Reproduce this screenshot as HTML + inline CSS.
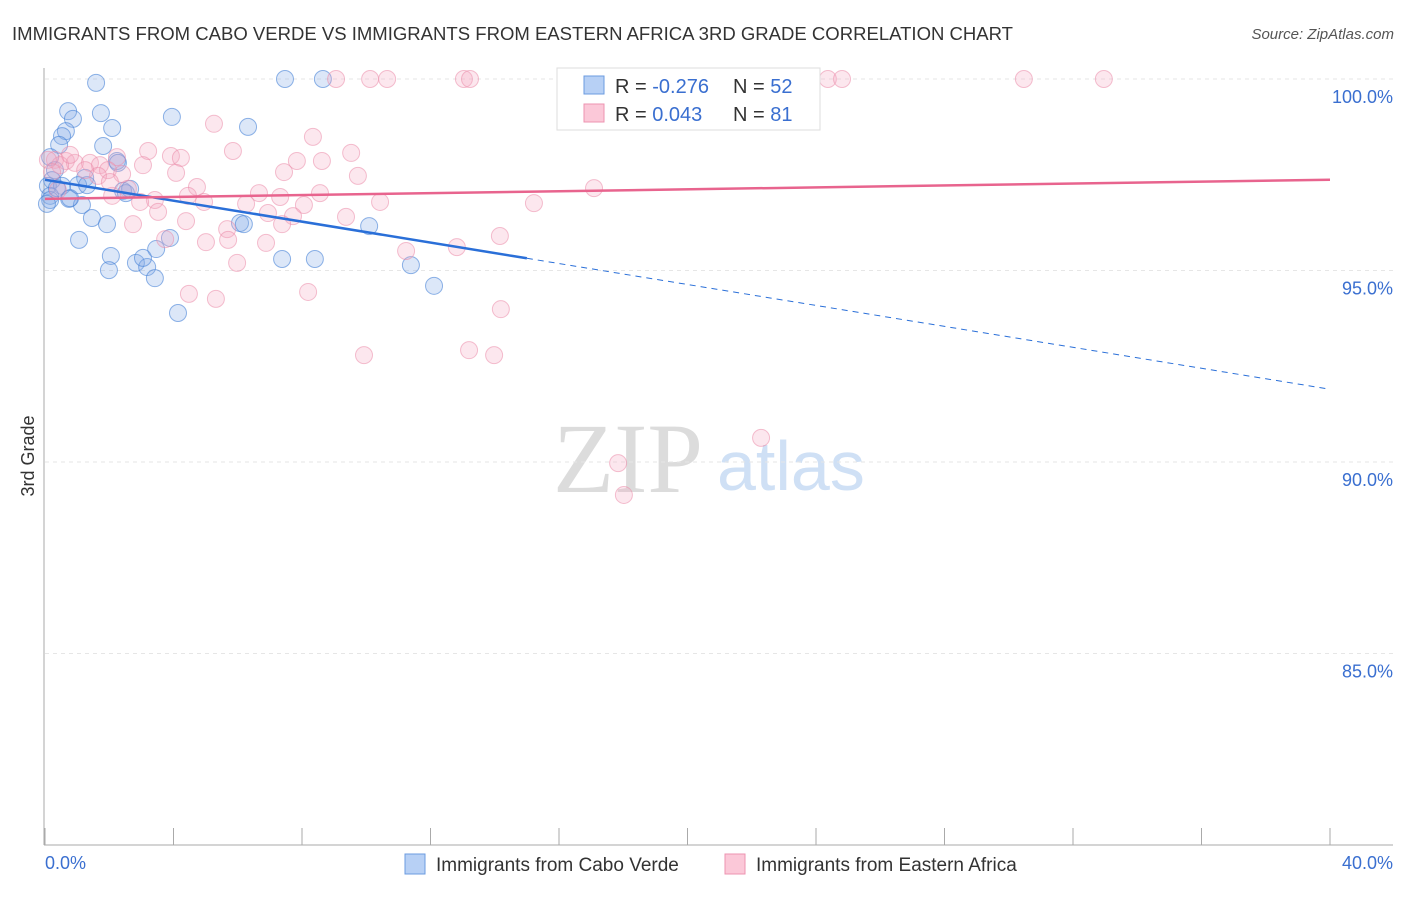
<!DOCTYPE html>
<html><head><meta charset="utf-8">
<style>
body{margin:0;background:#fff;font-family:"Liberation Sans",sans-serif;}
svg text{font-family:"Liberation Sans",sans-serif;}
</style></head>
<body>
<svg id="chart" width="1406" height="892" xmlns="http://www.w3.org/2000/svg">
<text x="12" y="40" font-size="18" fill="#333" textLength="1001" lengthAdjust="spacingAndGlyphs">IMMIGRANTS FROM CABO VERDE VS IMMIGRANTS FROM EASTERN AFRICA 3RD GRADE CORRELATION CHART</text>
<text x="1394" y="39" font-size="15" fill="#555" text-anchor="end" font-style="italic">Source: ZipAtlas.com</text>
<text x="553" y="492" font-size="100" fill="#dcdcdc" font-family="Liberation Serif" style="font-family:'Liberation Serif',serif">ZIP</text>
<text x="717" y="490" font-size="70" fill="#cfe0f5">atlas</text>
<g id="grid"></g>
<g id="axes"></g>
<g id="pts"></g>
<g id="trends"></g>
<text x="34" y="456" font-size="18" fill="#333" text-anchor="middle" transform="rotate(-90 34 456)">3rd Grade</text>
<text x="45" y="869" font-size="18" fill="#3a6fd0">0.0%</text>
<text x="1393" y="869" font-size="18" fill="#3a6fd0" text-anchor="end">40.0%</text>
<g>
<rect x="557" y="68" width="263" height="62" fill="#fff" stroke="#ddd"/>
<rect x="584" y="76" width="20" height="18" fill="#b7d0f5" stroke="#6b9be0"/>
<rect x="584" y="104" width="20" height="18" fill="#fbc8d8" stroke="#ee93b0"/>
<text x="615" y="93" font-size="20" fill="#333">R = <tspan fill="#3a6fd0">-0.276</tspan></text>
<text x="733" y="93" font-size="20" fill="#333">N = <tspan fill="#3a6fd0">52</tspan></text>
<text x="615" y="121" font-size="20" fill="#333">R = <tspan fill="#3a6fd0"> 0.043</tspan></text>
<text x="733" y="121" font-size="20" fill="#333">N = <tspan fill="#3a6fd0"> 81</tspan></text>
</g>
<g>
<rect x="405" y="854" width="20" height="20" fill="#b7d0f5" stroke="#6b9be0"/>
<text x="436" y="871" font-size="19" fill="#333">Immigrants from Cabo Verde</text>
</g>
<g>
<rect x="725" y="854" width="20" height="20" fill="#fbc8d8" stroke="#ee93b0"/>
<text x="756" y="871" font-size="19" fill="#333">Immigrants from Eastern Africa</text>
</g>
</svg>
<script>
const yTicks=[100,95,90,85];
const yTickLabels=["100.0%","95.0%","90.0%","85.0%"];
const xTicks=[0,4,8,12,16,20,24,28,32,36,40];
const blueX=[1.59,7.47,8.65,0.72,1.74,3.95,0.87,2.09,6.32,0.65,0.53,1.81,0.44,0.16,2.24,0.31,0.22,1.25,1.03,0.09,0.53,0.16,1.31,2.43,2.52,0.75,1.15,0.16,0.06,1.46,1.93,6.07,6.19,10.09,1.06,3.89,3.46,2.05,2.83,3.18,1.99,3.42,7.38,8.40,11.39,4.14,12.11,3.05,0.37,0.78,2.65,2.27];
const blueY=[99.9,100,100,99.16,99.11,99.01,98.96,98.72,98.75,98.64,98.51,98.25,98.28,97.96,97.86,97.62,97.36,97.42,97.23,97.21,97.21,96.95,97.23,97.08,97.02,96.87,96.71,96.84,96.74,96.37,96.21,96.24,96.21,96.16,95.80,95.85,95.56,95.38,95.20,95.09,95.01,94.80,95.30,95.30,95.14,93.89,94.60,95.33,97.15,96.89,97.13,97.81];
const pinkX=[9.06,10.12,10.65,13.04,13.23,16.53,23.28,24.37,24.81,30.47,32.96,5.26,8.34,5.85,3.21,9.53,3.92,4.23,7.84,8.62,2.24,0.65,0.93,1.40,1.71,1.96,0.31,0.47,0.09,7.44,9.74,4.08,2.40,1.65,4.73,2.58,6.66,8.56,17.09,10.43,15.22,3.42,2.09,2.96,4.95,6.26,7.32,8.06,6.94,9.37,3.52,5.67,7.72,4.39,2.74,7.38,3.74,5.01,5.70,6.88,14.16,11.24,12.82,5.98,4.48,5.32,8.19,14.19,9.93,13.20,13.98,22.29,17.84,18.02,0.22,1.25,3.05,0.78,2.02,4.45,0.40];
const pinkY=[100,100,100,100,100,100,100,100,100,100,100,98.83,98.49,98.12,98.12,98.07,97.99,97.94,97.86,97.86,97.96,97.86,97.81,97.81,97.75,97.62,97.89,97.75,97.89,97.57,97.47,97.55,97.52,97.47,97.18,97.13,97.02,97.02,97.15,96.79,96.76,96.84,96.95,96.79,96.79,96.74,96.92,96.71,96.50,96.40,96.53,96.08,96.42,96.29,96.21,96.21,95.82,95.74,95.80,95.72,95.90,95.51,95.61,95.20,94.39,94.26,94.44,93.99,92.79,92.92,92.79,90.63,89.97,89.14,97.57,97.62,97.75,98.02,97.31,96.95,97.10];
const blueTrend=[97.37,91.9];
const pinkTrend=[96.87,97.37];
const blueSolidEnd=15;

const NS="http://www.w3.org/2000/svg";
const X=v=>45+v*32.125;
const Y=v=>79+(100-v)*38.3;
function mk(tag,attrs,parent){const e=document.createElementNS(NS,tag);for(const k in attrs)e.setAttribute(k,attrs[k]);document.getElementById(parent).appendChild(e);return e;}
yTicks.forEach((t,i)=>{
  const l=mk('line',{x1:45,x2:1393,y1:Y(t),y2:Y(t),stroke:'#e6e6e6','stroke-dasharray':'4,4'},'grid');
  
  
  const tx=mk('text',{x:1393,y:Y(t)+24,'font-size':18,fill:'#3a6fd0','text-anchor':'end'},'grid');
  tx.textContent=yTickLabels[i];
  
  
});
const ya=mk('line',{x1:44,x2:44,y1:68,y2:845,stroke:'#aaa'},'axes');


const xa=mk('line',{x1:44,x2:1393,y1:845,y2:845,stroke:'#aaa'},'axes');


xTicks.forEach(t=>{
  const l=mk('line',{x1:X(t),x2:X(t),y1:828,y2:845,stroke:'#aaa'},'axes');
  
  
});
blueX.forEach((v,i)=>{
  const c=mk('circle',{cx:X(v),cy:Y(blueY[i]),r:8.5,fill:'rgba(130,170,230,0.28)',stroke:'rgba(70,130,215,0.6)','stroke-width':1},'pts');
  
  
});
pinkX.forEach((v,i)=>{
  const c=mk('circle',{cx:X(v),cy:Y(pinkY[i]),r:8.5,fill:'rgba(245,170,195,0.28)',stroke:'rgba(235,140,170,0.55)','stroke-width':1},'pts');
  
  
});
const bAt=v=>blueTrend[0]+(blueTrend[1]-blueTrend[0])*v/40;
const b1=mk('line',{x1:X(0),y1:Y(bAt(0)),x2:X(blueSolidEnd),y2:Y(bAt(blueSolidEnd)),stroke:'#2a6fd8','stroke-width':2.5},'trends');


const b2=mk('line',{x1:X(blueSolidEnd),y1:Y(bAt(blueSolidEnd)),x2:X(40),y2:Y(bAt(40)),stroke:'#2a6fd8','stroke-width':1,'stroke-dasharray':'6,5'},'trends');


const p1=mk('line',{x1:X(0),y1:Y(pinkTrend[0]),x2:X(40),y2:Y(pinkTrend[1]),stroke:'#e8648e','stroke-width':2.5},'trends');


</script>
</body></html>
